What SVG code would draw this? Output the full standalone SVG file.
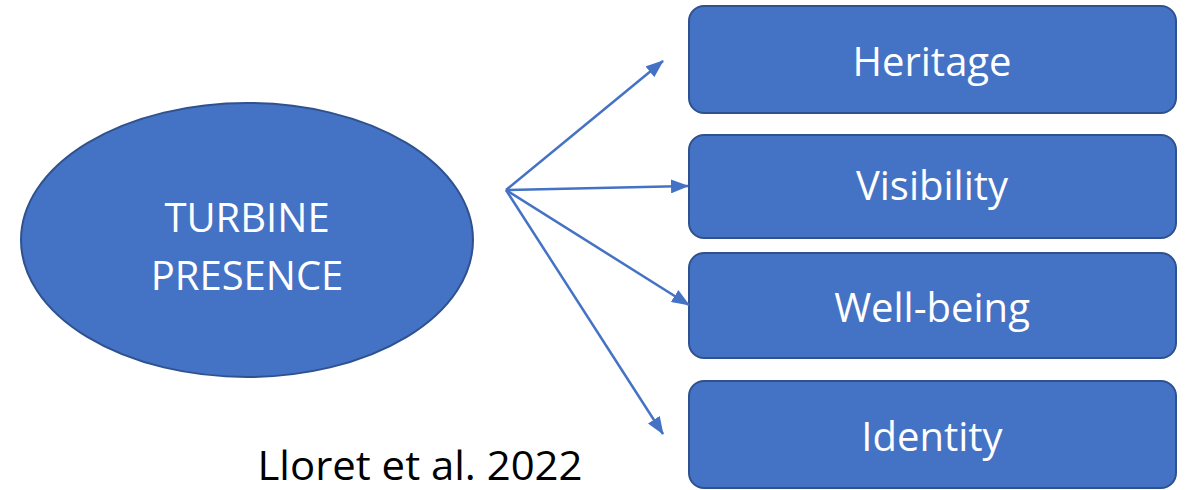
<svg xmlns="http://www.w3.org/2000/svg" width="1186" height="490" viewBox="0 0 1186 490">
<style>
.shape{fill:#4472C4;stroke:#2F528F;stroke-width:2}
.lbl{font-family:"Open Sans","Liberation Sans",sans-serif;fill:#ffffff;font-size:40px;text-anchor:middle}
.conn{stroke:#4472C4;stroke-width:2.5;fill:none}
</style>
<defs>
<marker id="ah" viewBox="0 0 18 14" refX="17" refY="7" markerWidth="18" markerHeight="14" markerUnits="userSpaceOnUse" orient="auto">
<path d="M0,0 L18,7 L0,14 Z" fill="#4472C4"/>
</marker>
</defs>
<rect width="1186" height="490" fill="#ffffff"/>
<g id="turbine">
<ellipse class="shape" cx="247" cy="240" rx="226" ry="137"/>
<text class="lbl" x="247" y="232">TURBINE</text>
<text class="lbl" x="247" y="290">PRESENCE</text>
</g>
<g id="heritage">
<rect class="shape" x="689" y="6" width="487" height="107" rx="15"/>
<text class="lbl" x="932" y="76">Heritage</text>
</g>
<g id="visibility">
<rect class="shape" x="689" y="135" width="487" height="103" rx="15"/>
<text class="lbl" x="932" y="200">Visibility</text>
</g>
<g id="wellbeing">
<rect class="shape" x="689" y="253" width="487" height="105" rx="15"/>
<text class="lbl" x="932" y="322">Well-being</text>
</g>
<g id="identity">
<rect class="shape" x="689" y="381" width="487" height="107" rx="15"/>
<text class="lbl" x="932" y="451">Identity</text>
</g>
<g id="connectors">
<line class="conn" x1="506" y1="190" x2="663" y2="61" marker-end="url(#ah)"/>
<line class="conn" x1="506" y1="190" x2="688" y2="186" marker-end="url(#ah)"/>
<line class="conn" x1="506" y1="190" x2="689" y2="305" marker-end="url(#ah)"/>
<line class="conn" x1="506" y1="190" x2="663" y2="434" marker-end="url(#ah)"/>
</g>
<g id="citation">
<text x="420" y="480" font-family="Open Sans, Liberation Sans, sans-serif" font-size="40" fill="#000000" text-anchor="middle" textLength="325" lengthAdjust="spacingAndGlyphs">Lloret et al. 2022</text>
</g>
</svg>
